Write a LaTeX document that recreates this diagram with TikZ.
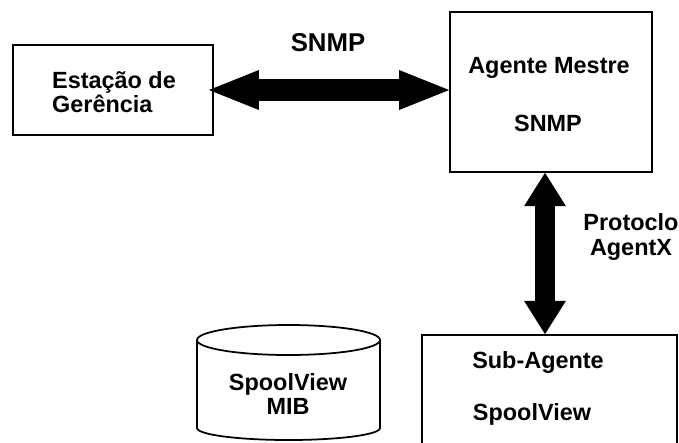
\documentclass[tikz,border=0pt]{standalone}
\usepackage{fontspec}
\setmainfont{Liberation Sans}
\usetikzlibrary{arrows.meta,positioning}

\tikzset{
  caixa/.style={draw, line width=1.5pt},
  rotulo/.style={font=\bfseries\fontsize{20}{21}\selectfont, align=center},
  seta/.style n args={3}{line width=#1, >={Triangle[length=#2,width=#3,line width=0pt]}, <->},
}

\begin{document}
\begin{tikzpicture}[x=0.03cm,y=0.03cm]
    % Area util
    \clip (0,0) rectangle (679,-442);

    % Caixas
    \node[caixa, minimum width=6cm, minimum height=2.7cm] (estacao) at (113,-90) {};
    \node[caixa, minimum width=6.06cm, minimum height=4.8cm] (mestre) at (551,-92) {};
    \node[caixa, minimum width=7.65cm, minimum height=3.9cm] (sub) at (549.5,-400) {};

    % Textos das caixas
    \node[rotulo, align=left, anchor=west] (txtestacao) at (48,-92) {Estação de\\Gerência};
    \node[rotulo] (txtmestre) at (549,-68) {Agente Mestre};
    \node[rotulo] (txtsnmp) at (548,-123) {SNMP};
    \node[rotulo] (txtsub) at (538,-362) {Sub-Agente};
    \node[rotulo] (txtspool) at (532,-414) {SpoolView};

    % Base de dados MIB
    \draw[line width=1.5pt] (288.5,-340) ellipse (91.5 and 15);
    \draw[line width=1.5pt] (197,-340) -- (197,-428)
        arc[start angle=180, end angle=360, x radius=91.5, y radius=12] -- (380,-340);
    \node[rotulo] (mib) at (288,-394) {SpoolView\\MIB};

    % Protocolos
    \draw[seta={0.66cm}{1.5cm}{1.2cm}] ([xshift=-0.15cm]estacao.east) -- (estacao.east -| mestre.west);
    \node[rotulo, font=\bfseries\fontsize{22}{24}\selectfont] (lblsnmp) at (328,-43) {SNMP};
    \draw[seta={0.6cm}{1.0cm}{1.26cm}] ([xshift=-0.18cm]mestre.south) -- ([xshift=-0.18cm]mestre.south |- sub.north);
    \node[rotulo] (lblagentx) at (631,-237) {Protoclo\\AgentX};
\end{tikzpicture}
\end{document}
